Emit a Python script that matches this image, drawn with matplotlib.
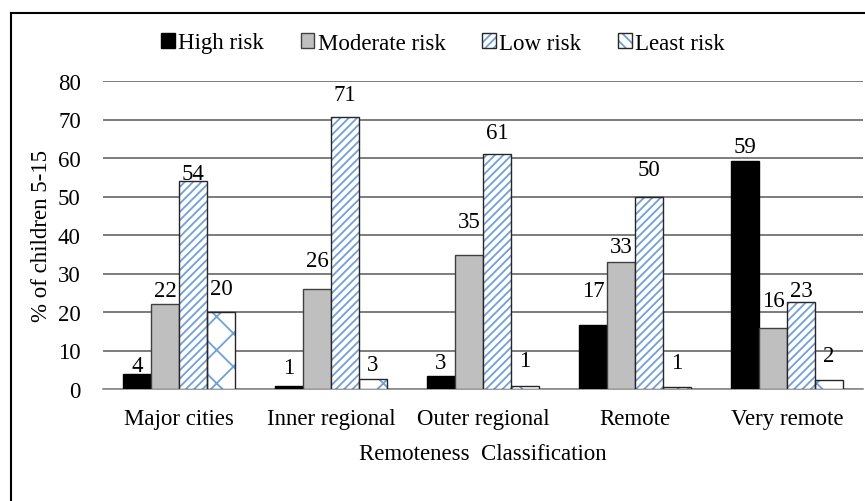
import matplotlib
matplotlib.use("Agg")
import matplotlib.pyplot as plt
import numpy as np
from matplotlib.lines import Line2D
from matplotlib.patches import Patch

plt.rcParams['font.family'] = ['Liberation Serif', 'DejaVu Serif']
plt.rcParams['hatch.linewidth'] = 1.3

categories = ["Major cities", "Inner regional", "Outer regional", "Remote", "Very remote"]
series = ["High risk", "Moderate risk", "Low risk", "Least risk"]
high = [3.9, 0.7, 3.3, 16.6, 59.2]
moderate = [22.0, 26.1, 34.8, 33.0, 15.8]
low = [54.1, 70.6, 61.0, 49.8, 22.6]
least = [20.0, 2.7, 0.8, 0.6, 2.4]
# label centre positions (data units) as placed in the reference
label_y = [
    [6.0, 5.7, 6.8, 25.6, 62.9],
    [25.6, 33.4, 43.6, 37.0, 23.0],
    [56.0, 76.5, 66.5, 57.0, 25.6],
    [26.0, 6.3, 7.3, 7.0, 8.6],
]
values = [high, moderate, low, least]
faces = ['black', '#BFBFBF', 'white', 'white']
edges = ['black', '#404040', '#262626', '#262626']
hatches = [None, None, '////', 'x']
hatch_col = '#6FA0D8'
FS = 16.5

fig = plt.figure(figsize=(8.65, 5.02), dpi=100)
ax = fig.add_axes([103/865, 1-390/502, 760/865, (390-82)/502])

x = np.arange(len(categories))
w = 0.184
handles = []
for i, (vals, name) in enumerate(zip(values, series)):
    pos = x + (i - 1.5) * w
    if hatches[i]:
        ax.bar(pos, vals, w, color=faces[i], edgecolor=hatch_col, linewidth=0,
               hatch=hatches[i], zorder=3)
        ax.bar(pos, vals, w, fill=False, edgecolor=edges[i], linewidth=1.0, zorder=3.5)
        h = (Patch(facecolor='white', edgecolor=hatch_col, linewidth=0, hatch='////' if i == 2 else '\\\\\\'),
             Patch(fill=False, edgecolor=edges[i], linewidth=1.0))
    else:
        ax.bar(pos, vals, w, color=faces[i], edgecolor=edges[i], linewidth=1.0, zorder=3)
        h = Patch(facecolor=faces[i], edgecolor=edges[i], linewidth=1.0)
    handles.append(h)
    for p, v, ly in zip(pos, vals, label_y[i]):
        ax.text(p, ly, f"{v:.0f}", ha='center', va='center', fontsize=FS, zorder=4)

ax.set_xlim(-0.5, len(categories) - 0.5)
ax.set_ylim(0, 80)
ax.set_yticks(np.arange(0, 81, 10))
ax.yaxis.grid(True, color='#595959', linewidth=1.1, zorder=0)
ax.set_axisbelow(True)
for s in ['top', 'right', 'left']:
    ax.spines[s].set_visible(False)
ax.spines['bottom'].set_color('#8c8c8c')
ax.spines['bottom'].set_linewidth(1.2)
ax.tick_params(axis='both', length=0, labelsize=FS)
ax.tick_params(axis='x', pad=14)
ax.tick_params(axis='y', pad=16)
ax.set_xticks(x)
ax.set_xticklabels(categories)
ax.set_ylabel("% of children 5-15", fontsize=FS, labelpad=4)
ax.set_xlabel("Remoteness  Classification", fontsize=FS, labelpad=10)

fig.legend(handles, series, loc='center', bbox_to_anchor=(443/865, 1-44/502), ncol=4,
           frameon=False, fontsize=FS, handlelength=0.6, handleheight=0.6,
           handletextpad=0.15, columnspacing=1.6)

# outer chart border (left and top visible)
fig.add_artist(Line2D([10.5/865, 10.5/865], [0, 1-14/502], color='black', lw=1.5, transform=fig.transFigure))
fig.add_artist(Line2D([10.5/865, 1], [1-14/502, 1-14/502], color='black', lw=1.5, transform=fig.transFigure))

fig.savefig("out.png", dpi=100)
